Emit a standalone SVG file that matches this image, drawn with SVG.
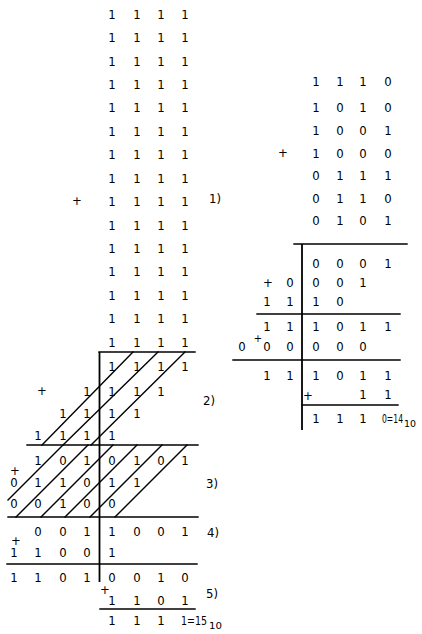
<svg xmlns="http://www.w3.org/2000/svg" width="422" height="634" viewBox="0 0 422 634">
<style>
.d{font-family:"Liberation Sans Narrow","DejaVu Sans Condensed","Liberation Sans",sans-serif;font-size:13px;fill:#000;text-anchor:middle}
.l{font-family:"Liberation Sans Narrow","DejaVu Sans Condensed","Liberation Sans",sans-serif;font-size:13px;fill:#000;text-anchor:start}
.s{font-size:9px}
.ln{stroke:#000;stroke-width:1.4;fill:none;stroke-linecap:square}
.vl{stroke:#000;stroke-width:1.8;fill:none}
</style>
<rect width="422" height="634" fill="#fff"/>
<g id="left-top">
<text class="d" x="112 137 161 185" y="18.7">1111</text>
<text class="d" x="112 137 161 185" y="42.1">1111</text>
<text class="d" x="112 137 161 185" y="65.6">1111</text>
<text class="d" x="112 137 161 185" y="89">1111</text>
<text class="d" x="112 137 161 185" y="112.4">1111</text>
<text class="d" x="112 137 161 185" y="135.9">1111</text>
<text class="d" x="112 137 161 185" y="159.3">1111</text>
<text class="d" x="112 137 161 185" y="182.7">1111</text>
<text class="d" x="112 137 161 185" y="206.1">1111</text>
<text class="d" x="112 137 161 185" y="229.6">1111</text>
<text class="d" x="112 137 161 185" y="253">1111</text>
<text class="d" x="112 137 161 185" y="276.4">1111</text>
<text class="d" x="112 137 161 185" y="299.9">1111</text>
<text class="d" x="112 137 161 185" y="323.3">1111</text>
<text class="d" x="112 137 161 185" y="346.7">1111</text>
<text class="d" x="77" y="204.5">+</text>
<text class="l" x="209" y="202.7">1)</text>
</g>
<g id="left-step2">
<text class="d" x="112 137 161 185" y="370.7">1111</text>
<text class="d" x="87 112 137 161" y="395.7">1111</text>
<text class="d" x="63 87 112 137" y="417.7">1111</text>
<text class="d" x="38 63 87 112" y="439.7">1111</text>
<text class="d" x="42" y="394.5">+</text>
<text class="l" x="203" y="404.7">2)</text>
</g>
<g id="left-step3">
<text class="d" x="38 63 87 112 137 161 185" y="464.7">1010101</text>
<text class="d" x="14 38 63 87 112 137" y="486.7">011011</text>
<text class="d" x="14 38 63 87 112" y="507.7">00100</text>
<text class="d" x="15" y="474.5">+</text>
<text class="l" x="206" y="487.7">3)</text>
</g>
<g id="left-step4">
<text class="d" x="38 63 87 112 137 161 185" y="535.7">0011001</text>
<text class="d" x="16" y="545">+</text>
<text class="d" x="14 38 63 87 112" y="556.7">11001</text>
<text class="d" x="14 38 63 87 112 137 161 185" y="581.7">11010010</text>
<text class="l" x="207" y="536.7">4)</text>
</g>
<g id="left-step5">
<text class="d" x="105" y="594">+</text>
<text class="d" x="112 137 161 185" y="604.7">1101</text>
<text class="d" x="112 137 161" y="624.7">111</text>
<text class="l" y="624.7"><tspan x="181" textLength="26" lengthAdjust="spacingAndGlyphs">1=15</tspan><tspan class="s" x="209" y="628.5" textLength="13" lengthAdjust="spacingAndGlyphs">10</tspan></text>
<text class="l" x="206" y="597.7">5)</text>
</g>
<g id="right-top">
<text class="d" x="316 340 363 388" y="85.7">1110</text>
<text class="d" x="316 340 363 388" y="111.7">1010</text>
<text class="d" x="316 340 363 388" y="134.7">1001</text>
<text class="d" x="316 340 363 388" y="157.7">1000</text>
<text class="d" x="316 340 363 388" y="179.7">0111</text>
<text class="d" x="316 340 363 388" y="202.7">0110</text>
<text class="d" x="316 340 363 388" y="224.7">0101</text>
<text class="d" x="283" y="156.5">+</text>
</g>
<g id="right-box">
<text class="d" x="316 340 363 388" y="267.7">0001</text>
<text class="d" x="268" y="286.5">+</text>
<text class="d" x="290 316 340 363" y="286.7">0001</text>
<text class="d" x="267 290 316 340" y="305.7">1110</text>
<text class="d" x="267 290 316 340 363 388" y="330.7">111011</text>
<text class="d" x="242" y="350.7">0</text>
<text class="d" x="258" y="341.5" style="font-size:11px">+</text>
<text class="d" x="267 290 316 340 363" y="350.7">00000</text>
<text class="d" x="267 290 316 340 363 388" y="379.7">111011</text>
<text class="d" x="308" y="399.5">+</text>
<text class="d" x="363 388" y="398.7">11</text>
<text class="d" x="316 340 363" y="422.7">111</text>
<text class="l" y="422.7"><tspan x="382" textLength="21" lengthAdjust="spacingAndGlyphs">0=14</tspan><tspan class="s" x="404" y="427" textLength="12" lengthAdjust="spacingAndGlyphs">10</tspan></text>
</g>
<g id="connectors">
<line class="vl" x1="99.5" y1="352" x2="99.5" y2="582"/>
<line class="ln" x1="99" y1="352" x2="195" y2="352"/>
<line class="ln" x1="27" y1="445" x2="198" y2="445"/>
<line class="ln" x1="8" y1="517" x2="198" y2="517"/>
<line class="ln" x1="7" y1="564" x2="197" y2="564"/>
<line class="ln" x1="100" y1="609" x2="195" y2="609"/>
<line class="ln" x1="42" y1="445" x2="133" y2="352"/>
<line class="ln" x1="63" y1="445" x2="158" y2="352"/>
<line class="ln" x1="91" y1="445" x2="185" y2="352"/>
<line class="ln" x1="8" y1="500" x2="63" y2="445"/>
<line class="ln" x1="16" y1="517" x2="88" y2="445"/>
<line class="ln" x1="41" y1="517" x2="113" y2="445"/>
<line class="ln" x1="65" y1="517" x2="137" y2="445"/>
<line class="ln" x1="90" y1="517" x2="162" y2="445"/>
<line class="ln" x1="115" y1="517" x2="187" y2="445"/>
<line class="vl" x1="302" y1="244" x2="302" y2="430"/>
<line class="ln" x1="294" y1="244" x2="407" y2="244"/>
<line class="ln" x1="257" y1="314" x2="400" y2="314"/>
<line class="ln" x1="233" y1="360" x2="400" y2="360"/>
<line class="ln" x1="302" y1="405" x2="398" y2="405"/>
</g>
</svg>
